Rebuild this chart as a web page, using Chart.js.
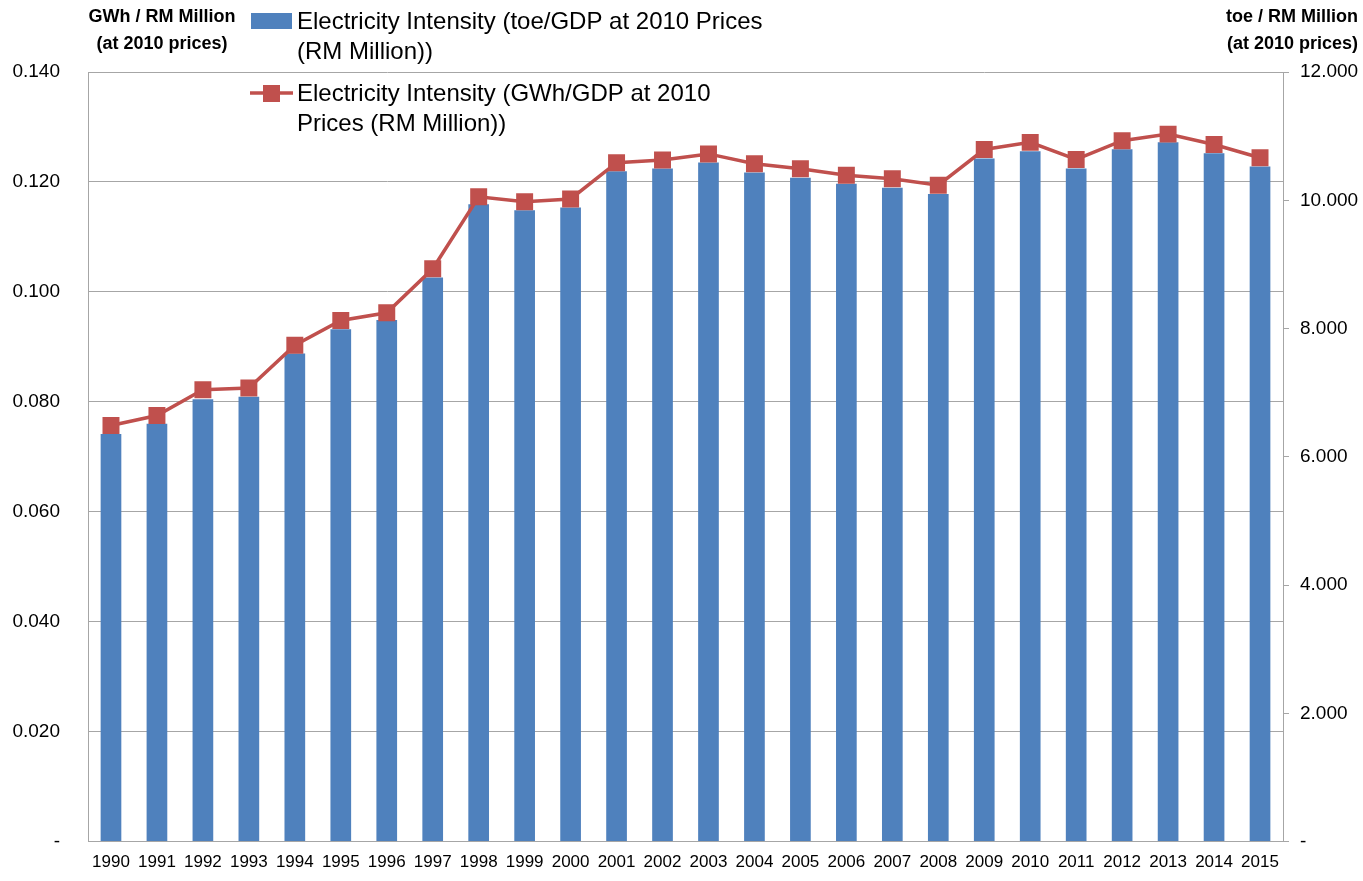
<!DOCTYPE html>
<html lang="en">
<head>
    <meta charset="UTF-8">
    <title>Electricity Intensity</title>
    <script src="https://cdn.jsdelivr.net/npm/chart.js@4.4.0/dist/chart.umd.min.js"></script>
    <style>
        html, body { margin: 0; padding: 0; background: #fff; }
        #wrap { width: 1363px; height: 881px; }
    </style>
</head>
<body>
    <div id="wrap"><canvas id="chart" width="1363" height="881"></canvas></div>

    <script>
        const years = ['1990','1991','1992','1993','1994','1995','1996','1997','1998','1999','2000','2001','2002',
                       '2003','2004','2005','2006','2007','2008','2009','2010','2011','2012','2013','2014','2015']

        // bars, right axis (toe / RM Million)
        const toeIntensity = [6.357, 6.516, 6.899, 6.935, 7.612, 7.989, 8.135, 8.795, 9.938, 9.845, 9.887, 10.454, 10.496,
                              10.589, 10.434, 10.352, 10.259, 10.197, 10.098, 10.651, 10.764, 10.496, 10.795, 10.904, 10.733, 10.527]

        // line, left axis (GWh / RM Million)
        const gwhIntensity = [0.0757, 0.0775, 0.0822, 0.0825, 0.0903, 0.0948, 0.0962, 0.1042, 0.1173, 0.1164, 0.1169, 0.1235, 0.1240,
                              0.1251, 0.1233, 0.1224, 0.1212, 0.1206, 0.1194, 0.1259, 0.1272, 0.1241, 0.1275, 0.1287, 0.1268, 0.1244]

        const leftTicks = { min: 0, max: 0.14, step: 0.02 }
        const rightTicks = { min: 0, max: 12, step: 2 }

        const FONT = "'Liberation Sans Narrow', 'Arial Narrow', 'Liberation Sans', Arial, sans-serif"
        const BLUE = '#4F81BD'
        const RED = '#C0504D'
        const GRID = '#A6A6A6'

        const fmt = v => v === 0 ? '-' : v.toFixed(3)

        // titles + legend drawn by hand (legend wraps and sits over the plot)
        const decorations = {
            id: 'decorations',
            afterDraw(chart) {
                const ctx = chart.ctx
                ctx.save()
                ctx.fillStyle = '#000'
                ctx.textBaseline = 'middle'
                ctx.font = 'bold 18px ' + FONT
                ctx.textAlign = 'center'
                ctx.fillText('GWh / RM Million', 162, 17)
                ctx.fillText('(at 2010 prices)', 162, 44)
                ctx.textAlign = 'right'
                ctx.fillText('toe / RM Million', 1358, 17)
                ctx.fillText('(at 2010 prices)', 1358, 44)

                ctx.font = '24px ' + FONT
                ctx.textAlign = 'left'
                ctx.fillStyle = BLUE
                ctx.fillRect(251, 13, 41, 16)
                ctx.fillStyle = '#000'
                ctx.fillText('Electricity Intensity (toe/GDP at 2010 Prices', 297, 22)
                ctx.fillText('(RM Million))', 297, 52)

                ctx.strokeStyle = RED
                ctx.lineWidth = 3.5
                ctx.beginPath()
                ctx.moveTo(250, 93)
                ctx.lineTo(293, 93)
                ctx.stroke()
                ctx.fillStyle = RED
                ctx.fillRect(263, 85, 17, 17)
                ctx.fillStyle = '#000'
                ctx.fillText('Electricity Intensity (GWh/GDP at 2010', 297, 94)
                ctx.fillText('Prices (RM Million))', 297, 124)
                ctx.restore()
            }
        }

        const ctx = document.getElementById('chart').getContext('2d')

        const myChart = new Chart(ctx, {
            data: {
                labels: years,
                datasets: [{
                    type: 'line',
                    label: 'Electricity Intensity (GWh/GDP at 2010 Prices (RM Million))',
                    data: gwhIntensity,
                    yAxisID: 'y',
                    borderColor: RED,
                    backgroundColor: RED,
                    borderWidth: 3.5,
                    pointStyle: 'rect',
                    pointRadius: 12,
                    pointBorderWidth: 0,
                    tension: 0,
                    order: 1
                }, {
                    type: 'bar',
                    label: 'Electricity Intensity (toe/GDP at 2010 Prices (RM Million))',
                    data: toeIntensity,
                    yAxisID: 'y2',
                    backgroundColor: BLUE,
                    borderWidth: 0,
                    barPercentage: 0.45,
                    categoryPercentage: 1,
                    order: 2
                }]
            },
            options: {
                responsive: false,
                animation: false,
                layout: { padding: { top: 72, left: 0, right: 0, bottom: -5 } },
                plugins: {
                    legend: { display: false },
                    tooltip: { enabled: false }
                },
                scales: {
                    x: {
                        offset: true,
                        grid: { display: false, drawTicks: false },
                        border: { color: GRID, width: 1 },
                        ticks: { color: '#000', font: { family: FONT, size: 17 }, padding: 11, maxRotation: 0, autoSkip: false },
                        afterFit: s => { s.height = 30 }
                    },
                    y: {
                        position: 'left',
                        min: leftTicks.min,
                        max: leftTicks.max,
                        grid: { color: GRID, drawTicks: false },
                        border: { color: GRID, width: 1 },
                        ticks: { stepSize: leftTicks.step, color: '#000', font: { family: FONT, size: 19 }, padding: 28, callback: fmt },
                        afterFit: s => { s.width = 88 }
                    },
                    y2: {
                        position: 'right',
                        min: rightTicks.min,
                        max: rightTicks.max,
                        grid: { drawOnChartArea: false, color: GRID, tickLength: 6 },
                        border: { color: GRID, width: 1 },
                        ticks: { stepSize: rightTicks.step, color: '#000', font: { family: FONT, size: 19 }, padding: 11, callback: fmt },
                        afterFit: s => { s.width = 80 }
                    }
                }
            },
            plugins: [decorations]
        })
    </script>
</body>
</html>
